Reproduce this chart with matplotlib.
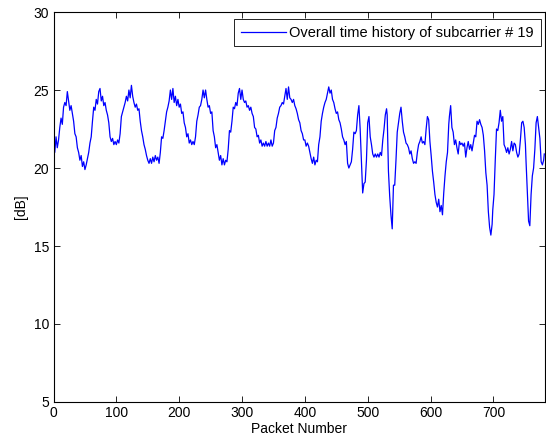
import matplotlib
matplotlib.use('Agg')
import matplotlib.pyplot as plt

plt.rcParams['font.family'] = ['Liberation Sans', 'DejaVu Sans']

# packet index / level in dB
packet = [0, 2, 4, 6, 8, 10, 12, 14, 16, 18, 20, 22, 24, 26, 28, 30, 32, 34, 36, 38,
          40, 42, 44, 46, 48, 50, 52, 54, 56, 58, 60, 62, 64, 66, 68, 70, 72, 74, 76, 78,
          80, 82, 84, 86, 88, 90, 92, 94, 96, 98, 100, 102, 104, 106, 108, 110, 112, 114, 116, 118,
          120, 122, 124, 126, 128, 130, 132, 134, 136, 138, 140, 142, 144, 146, 148, 150, 152, 154, 156, 158,
          160, 162, 164, 166, 168, 170, 172, 174, 176, 178, 180, 182, 184, 186, 188, 190, 192, 194, 196, 198,
          200, 202, 204, 206, 208, 210, 212, 214, 216, 218, 220, 222, 224, 226, 228, 230, 232, 234, 236, 238,
          240, 242, 244, 246, 248, 250, 252, 254, 256, 258, 260, 262, 264, 266, 268, 270, 272, 274, 276, 278,
          280, 282, 284, 286, 288, 290, 292, 294, 296, 298, 300, 302, 304, 306, 308, 310, 312, 314, 316, 318,
          320, 322, 324, 326, 328, 330, 332, 334, 336, 338, 340, 342, 344, 346, 348, 350, 352, 354, 356, 358,
          360, 362, 364, 366, 368, 370, 372, 374, 376, 378, 380, 382, 384, 386, 388, 390, 392, 394, 396, 398,
          400, 402, 404, 406, 408, 410, 412, 414, 416, 418, 420, 422, 424, 426, 428, 430, 432, 434, 436, 438,
          440, 442, 444, 446, 448, 450, 452, 454, 456, 458, 460, 462, 464, 466, 468, 470, 472, 474, 476, 478,
          480, 482, 484, 486, 488, 490, 492, 494, 496, 498, 500, 502, 504, 506, 508, 510, 512, 514, 516, 518,
          520, 522, 524, 526, 528, 530, 531, 533, 535, 537, 539, 541, 543, 545, 547, 549, 551, 553, 555, 557,
          559, 561, 563, 565, 567, 569, 571, 573, 575, 577, 579, 581, 583, 585, 587, 589, 591, 593, 595, 597,
          599, 601, 603, 605, 607, 609, 611, 613, 615, 617, 619, 621, 623, 625, 627, 629, 630, 632, 634, 636,
          638, 640, 642, 644, 646, 648, 650, 652, 654, 656, 658, 660, 662, 664, 666, 668, 670, 672, 674, 676,
          678, 680, 682, 684, 686, 688, 690, 692, 694, 696, 698, 699, 701, 703, 705, 707, 709, 711, 713, 715,
          717, 719, 721, 723, 725, 727, 729, 731, 733, 735, 737, 739, 741, 743, 745, 747, 749, 751, 752, 754,
          756, 758, 760, 762, 764, 766, 768, 770, 772, 774, 776, 778, 780, 781]
level = [21.6, 21.0, 22.0, 21.3, 21.8, 22.6, 23.2, 22.8, 23.9, 24.2, 24.0, 24.9, 24.3, 23.7, 24.0, 23.5, 23.0, 22.2, 22.0, 21.3,
         21.0, 20.5, 20.8, 20.1, 20.4, 19.9, 20.2, 20.6, 21.0, 21.6, 22.0, 23.0, 23.9, 23.7, 24.4, 24.1, 24.9, 25.1, 24.3, 24.6,
         24.0, 24.2, 23.7, 23.4, 22.9, 22.0, 21.7, 21.9, 21.5, 21.7, 21.5, 21.8, 21.6, 22.2, 23.3, 23.6, 23.9, 24.2, 24.6, 24.3,
         25.0, 24.5, 25.3, 24.6, 24.2, 23.9, 24.1, 23.7, 23.8, 23.0, 22.4, 22.0, 21.5, 21.2, 20.8, 20.5, 20.3, 20.6, 20.3, 20.7,
         20.4, 20.8, 20.5, 20.7, 20.3, 21.0, 22.0, 21.9, 22.4, 23.0, 23.6, 23.9, 24.3, 25.0, 24.4, 25.1, 24.2, 24.6, 24.0, 24.4,
         23.9, 24.1, 23.5, 23.6, 22.9, 22.6, 22.0, 22.2, 21.6, 21.8, 21.5, 21.7, 21.5, 22.0, 23.0, 23.4, 23.9, 24.0, 24.4, 25.0,
         24.5, 25.0, 24.4, 23.9, 24.0, 23.5, 23.6, 22.4, 22.0, 21.3, 21.5, 21.0, 20.5, 20.8, 20.2, 20.6, 20.2, 20.5, 20.4, 21.2,
         22.4, 22.3, 23.0, 23.9, 23.8, 24.2, 24.0, 24.8, 25.1, 24.4, 25.0, 24.4, 24.2, 24.3, 23.9, 24.0, 23.7, 23.9, 23.5, 23.3,
         22.6, 22.5, 22.0, 22.1, 21.6, 21.8, 21.4, 21.6, 21.4, 21.7, 21.4, 21.6, 21.4, 21.8, 21.4, 21.6, 22.4, 22.6, 23.2, 23.5,
         23.9, 24.0, 24.2, 24.1, 24.6, 25.1, 24.4, 25.2, 24.5, 24.4, 24.2, 24.4, 24.0, 23.8, 23.5, 23.1, 22.9, 22.4, 22.2, 21.8,
         21.8, 21.4, 21.6, 21.4, 21.0, 20.6, 20.3, 20.7, 20.2, 20.5, 20.4, 21.5, 22.0, 23.0, 23.5, 23.9, 24.2, 24.4, 24.8, 25.2,
         24.8, 25.0, 24.4, 24.2, 23.8, 23.5, 23.6, 23.1, 22.9, 22.5, 22.0, 21.8, 21.5, 21.7, 20.3, 20.0, 20.2, 20.4, 21.2, 22.3,
         22.2, 22.4, 23.4, 24.0, 22.5, 20.5, 18.4, 19.0, 19.1, 20.5, 22.9, 23.3, 22.0, 21.5, 20.9, 20.7, 20.9, 20.7, 20.9, 20.7,
         21.0, 20.8, 21.8, 22.5, 23.4, 23.8, 23.4, 19.8, 18.2, 17.0, 16.1, 18.9, 18.9, 20.5, 22.3, 22.9, 23.5, 23.9, 23.0, 22.3,
         22.0, 21.6, 21.5, 21.3, 20.9, 21.1, 20.6, 20.3, 20.4, 20.3, 21.0, 21.5, 21.7, 22.0, 21.6, 21.7, 21.5, 22.5, 23.3, 23.1,
         21.7, 20.8, 19.8, 19.1, 18.3, 17.8, 17.5, 18.0, 17.2, 17.6, 17.0, 18.4, 19.5, 20.4, 21.0, 22.8, 23.3, 24.0, 22.6, 22.3,
         21.5, 21.8, 21.3, 20.9, 21.7, 21.5, 21.6, 21.4, 21.6, 20.7, 21.3, 21.7, 21.2, 21.5, 21.1, 21.6, 22.1, 22.0, 23.0, 22.8,
         23.1, 22.8, 22.6, 22.1, 21.1, 19.7, 18.9, 17.2, 16.2, 15.7, 16.4, 17.3, 18.3, 20.5, 22.5, 22.4, 22.9, 23.7, 23.0, 23.3,
         21.5, 21.3, 21.0, 21.3, 20.9, 21.2, 21.7, 21.1, 21.6, 21.5, 21.0, 20.7, 20.9, 21.8, 22.9, 23.0, 22.6, 21.5, 20.4, 18.5,
         16.6, 16.3, 18.3, 19.5, 20.0, 21.2, 22.9, 23.3, 22.6, 21.9, 20.4, 20.2, 20.5, 20.9]

xticks = [0, 100, 200, 300, 400, 500, 600, 700]
yticks = [5, 10, 15, 20, 25, 30]

fig = plt.figure(figsize=(5.46, 4.46), dpi=100)
ax = fig.add_axes([0.098, 0.0987, 0.9, 0.8743])

ax.plot(packet, level, color='#0000ff', linewidth=0.9,
        label='Overall time history of subcarrier # 19')

ax.set_xlim(0, 782)
ax.set_ylim(5, 30)
ax.set_xticks(xticks)
ax.set_yticks(yticks)
ax.tick_params(direction='in', top=True, right=True, length=4, width=0.6,
               labelsize=10, pad=3)
for s in ax.spines.values():
    s.set_linewidth(0.8)

ax.set_xlabel('Packet Number', fontsize=10, labelpad=1)
ax.set_ylabel('[dB]', fontsize=10, labelpad=4)

leg = ax.legend(loc='upper right', bbox_to_anchor=(0.9913, 0.9813),
                fontsize=10.5, fancybox=False, edgecolor='black', framealpha=1,
                borderaxespad=0, handlelength=3.1, handletextpad=0.25,
                borderpad=0.45)
leg.get_frame().set_linewidth(0.6)

fig.savefig('out.png', dpi=100)
